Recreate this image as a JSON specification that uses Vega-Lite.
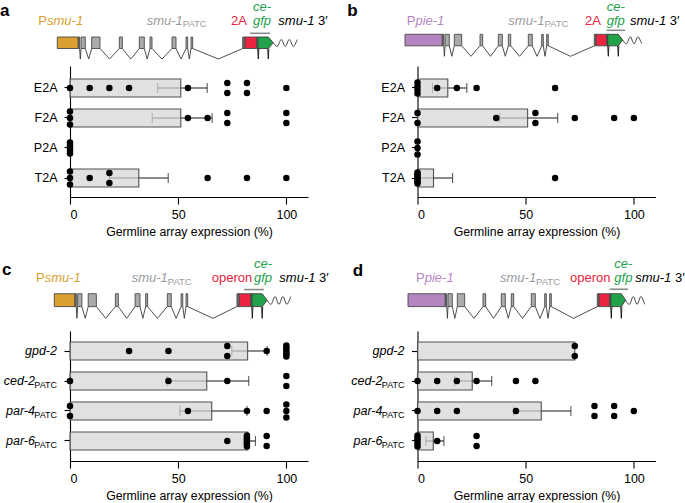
{
"$schema": "https://vega.github.io/schema/vega-lite/v6.json",
"padding": 0,
"background": "white",
"bounds": "flush",
"columns": 2,
"spacing": {"row": 5, "column": 109.5},
"config": {
 "font": "Liberation Sans",
 "view": {"stroke": null},
 "axis": {"domainColor": "#000", "domainWidth": 1.1, "tickColor": "#000", "tickWidth": 1.1, "labelColor": "#000", "labelFontSize": 12.5, "titleColor": "#000", "titleFontSize": 12.3, "titleFontWeight": "normal", "grid": false, "labelFont": "Liberation Sans", "titleFont": "Liberation Sans"},
 "axisX": {"tickSize": 7, "labelPadding": 4, "titlePadding": 5},
 "axisY": {"tickSize": 6, "labelPadding": 7}
},
"datasets": {
 "pts": [
  {"p":"a","cat":"E2A","v":0},{"p":"a","cat":"E2A","v":9.1},{"p":"a","cat":"E2A","v":18.2},{"p":"a","cat":"E2A","v":27.3},{"p":"a","cat":"E2A","v":54.5},{"p":"a","cat":"E2A","v":72.7},{"p":"a","cat":"E2A","v":72.7},{"p":"a","cat":"E2A","v":81.8},{"p":"a","cat":"E2A","v":81.8},{"p":"a","cat":"E2A","v":100},
  {"p":"a","cat":"F2A","v":0},{"p":"a","cat":"F2A","v":0},{"p":"a","cat":"F2A","v":0},{"p":"a","cat":"F2A","v":54.5},{"p":"a","cat":"F2A","v":63.6},{"p":"a","cat":"F2A","v":72.7},{"p":"a","cat":"F2A","v":72.7},{"p":"a","cat":"F2A","v":100},{"p":"a","cat":"F2A","v":100},
  {"p":"a","cat":"P2A","v":0},{"p":"a","cat":"P2A","v":0},{"p":"a","cat":"P2A","v":0},{"p":"a","cat":"P2A","v":0},{"p":"a","cat":"P2A","v":0},
  {"p":"a","cat":"T2A","v":0},{"p":"a","cat":"T2A","v":0},{"p":"a","cat":"T2A","v":0},{"p":"a","cat":"T2A","v":9.1},{"p":"a","cat":"T2A","v":18.2},{"p":"a","cat":"T2A","v":18.2},{"p":"a","cat":"T2A","v":63.6},{"p":"a","cat":"T2A","v":81.8},{"p":"a","cat":"T2A","v":100},
  {"p":"b","cat":"E2A","v":0},{"p":"b","cat":"E2A","v":0},{"p":"b","cat":"E2A","v":0},{"p":"b","cat":"E2A","v":0},{"p":"b","cat":"E2A","v":9.1},{"p":"b","cat":"E2A","v":18.2},{"p":"b","cat":"E2A","v":27.3},{"p":"b","cat":"E2A","v":63.6},
  {"p":"b","cat":"F2A","v":0},{"p":"b","cat":"F2A","v":0},{"p":"b","cat":"F2A","v":36.4},{"p":"b","cat":"F2A","v":54.5},{"p":"b","cat":"F2A","v":54.5},{"p":"b","cat":"F2A","v":72.7},{"p":"b","cat":"F2A","v":90.9},{"p":"b","cat":"F2A","v":100},
  {"p":"b","cat":"P2A","v":0},{"p":"b","cat":"P2A","v":0},{"p":"b","cat":"P2A","v":0},
  {"p":"b","cat":"T2A","v":0},{"p":"b","cat":"T2A","v":0},{"p":"b","cat":"T2A","v":0},{"p":"b","cat":"T2A","v":0},{"p":"b","cat":"T2A","v":0},{"p":"b","cat":"T2A","v":0},{"p":"b","cat":"T2A","v":0},{"p":"b","cat":"T2A","v":63.6},
  {"p":"c","cat":"gpd-2","v":27.3},{"p":"c","cat":"gpd-2","v":45.5},{"p":"c","cat":"gpd-2","v":72.7},{"p":"c","cat":"gpd-2","v":72.7},{"p":"c","cat":"gpd-2","v":90.9},{"p":"c","cat":"gpd-2","v":100},{"p":"c","cat":"gpd-2","v":100},{"p":"c","cat":"gpd-2","v":100},{"p":"c","cat":"gpd-2","v":100},{"p":"c","cat":"gpd-2","v":100},{"p":"c","cat":"gpd-2","v":100},
  {"p":"c","cat":"ced-2","v":0},{"p":"c","cat":"ced-2","v":45.5},{"p":"c","cat":"ced-2","v":72.7},{"p":"c","cat":"ced-2","v":100},{"p":"c","cat":"ced-2","v":100},
  {"p":"c","cat":"par-4","v":0},{"p":"c","cat":"par-4","v":0},{"p":"c","cat":"par-4","v":54.5},{"p":"c","cat":"par-4","v":81.8},{"p":"c","cat":"par-4","v":90.9},{"p":"c","cat":"par-4","v":100},{"p":"c","cat":"par-4","v":100},{"p":"c","cat":"par-4","v":100},
  {"p":"c","cat":"par-6","v":72.7},{"p":"c","cat":"par-6","v":81.8},{"p":"c","cat":"par-6","v":81.8},{"p":"c","cat":"par-6","v":81.8},{"p":"c","cat":"par-6","v":81.8},{"p":"c","cat":"par-6","v":81.8},{"p":"c","cat":"par-6","v":90.9},{"p":"c","cat":"par-6","v":90.9},
  {"p":"d","cat":"gpd-2","v":72.7},{"p":"d","cat":"gpd-2","v":72.7},
  {"p":"d","cat":"ced-2","v":0},{"p":"d","cat":"ced-2","v":9.1},{"p":"d","cat":"ced-2","v":18.2},{"p":"d","cat":"ced-2","v":27.3},{"p":"d","cat":"ced-2","v":45.5},{"p":"d","cat":"ced-2","v":54.5},
  {"p":"d","cat":"par-4","v":0},{"p":"d","cat":"par-4","v":9.1},{"p":"d","cat":"par-4","v":18.2},{"p":"d","cat":"par-4","v":45.5},{"p":"d","cat":"par-4","v":81.8},{"p":"d","cat":"par-4","v":81.8},{"p":"d","cat":"par-4","v":90.9},{"p":"d","cat":"par-4","v":90.9},{"p":"d","cat":"par-4","v":100},
  {"p":"d","cat":"par-6","v":0},{"p":"d","cat":"par-6","v":0},{"p":"d","cat":"par-6","v":0},{"p":"d","cat":"par-6","v":0},{"p":"d","cat":"par-6","v":0},{"p":"d","cat":"par-6","v":9.1},{"p":"d","cat":"par-6","v":27.3},{"p":"d","cat":"par-6","v":27.3}
 ],
 "bars": [
  {"p":"a","cat":"E2A","m":51.2,"lo":40.5,"hi":63.4},
  {"p":"a","cat":"F2A","m":51.2,"lo":38,"hi":65.7},
  {"p":"a","cat":"P2A","m":0},
  {"p":"a","cat":"T2A","m":31.8,"lo":18.2,"hi":45.4},
  {"p":"b","cat":"E2A","m":14.0,"lo":6.9,"hi":22.8},
  {"p":"b","cat":"F2A","m":50.9,"lo":38,"hi":64.8},
  {"p":"b","cat":"P2A","m":0},
  {"p":"b","cat":"T2A","m":7.4,"lo":0,"hi":16.2},
  {"p":"c","cat":"gpd-2","m":82.1,"lo":74.8,"hi":91.1},
  {"p":"c","cat":"ced-2","m":63.2,"lo":44.9,"hi":82.6,"sub":"PATC"},
  {"p":"c","cat":"par-4","m":65.5,"lo":50.8,"hi":81.8,"sub":"PATC"},
  {"p":"c","cat":"par-6","m":82.2,"lo":80.2,"hi":85.7,"sub":"PATC"},
  {"p":"d","cat":"gpd-2","m":72.7},
  {"p":"d","cat":"ced-2","m":25.3,"lo":17.3,"hi":34.3,"sub":"PATC"},
  {"p":"d","cat":"par-4","m":57.2,"lo":44.4,"hi":70.9,"sub":"PATC"},
  {"p":"d","cat":"par-6","m":7.3,"lo":3.9,"hi":12.2,"sub":"PATC"}
 ],
 "boxes": [
  {"t":"smu","k":"prom-smu","x":-12.7,"x2":8.3},
  {"t":"smu","k":"exon-dark","x":8.3,"x2":9.6},
  {"t":"smu","k":"exon","x":11,"x2":15.3},
  {"t":"smu","k":"exon","x":21.7,"x2":30},
  {"t":"smu","k":"exon","x":49.3,"x2":52.3},
  {"t":"smu","k":"exon","x":69.3,"x2":74.3},
  {"t":"smu","k":"exon","x":80,"x2":82},
  {"t":"smu","k":"exon","x":102,"x2":106},
  {"t":"smu","k":"exon","x":116,"x2":117.7},
  {"t":"smu","k":"exon","x":121,"x2":122.7},
  {"t":"smu","k":"exon-dark","x":172.7,"x2":175},
  {"t":"smu","k":"linker","x":175,"x2":186.7},
  {"t":"smu","k":"exon-dark","x":186.7,"x2":188},
  {"t":"pie","k":"prom-pie","x":-12.5,"x2":24.8},
  {"t":"pie","k":"exon-dark","x":24.8,"x2":26.3},
  {"t":"pie","k":"exon","x":27.5,"x2":31.8},
  {"t":"pie","k":"exon","x":36.8,"x2":44.2},
  {"t":"pie","k":"exon","x":62.5,"x2":65.2},
  {"t":"pie","k":"exon","x":80.8,"x2":84.8},
  {"t":"pie","k":"exon","x":90.8,"x2":93.2},
  {"t":"pie","k":"exon","x":110.8,"x2":114.8},
  {"t":"pie","k":"exon","x":124.2,"x2":125.8},
  {"t":"pie","k":"exon","x":129.2,"x2":130.8},
  {"t":"pie","k":"exon-dark","x":176.8,"x2":178.5},
  {"t":"pie","k":"linker","x":178.5,"x2":189.2},
  {"t":"pie","k":"exon-dark","x":189.2,"x2":190.2}
 ],
 "introns": [
  {"t":"smu","k":"intron","x":9.6,"xm":10.3,"x2":11},
  {"t":"smu","k":"intron","x":15.3,"xm":18.7,"x2":21.7},
  {"t":"smu","k":"intron","x":30,"xm":39.6,"x2":49.3},
  {"t":"smu","k":"intron","x":52.3,"xm":60.8,"x2":69.3},
  {"t":"smu","k":"intron","x":74.3,"xm":77.2,"x2":80},
  {"t":"smu","k":"intron","x":82,"xm":92,"x2":102},
  {"t":"smu","k":"intron","x":106,"xm":111,"x2":116},
  {"t":"smu","k":"intron","x":117.7,"xm":119.3,"x2":121},
  {"t":"smu","k":"intron","x":122.7,"xm":148.3,"x2":172.7},
  {"t":"smu","k":"gfpi","x":187.7,"xm":188.3,"x2":188.9},
  {"t":"smu","k":"gfpi","x":197.7,"xm":198.3,"x2":198.9},
  {"t":"pie","k":"intron","x":26.3,"xm":26.9,"x2":27.5},
  {"t":"pie","k":"intron","x":31.8,"xm":34.3,"x2":36.8},
  {"t":"pie","k":"intron","x":44.2,"xm":53.5,"x2":62.5},
  {"t":"pie","k":"intron","x":65.2,"xm":73,"x2":80.8},
  {"t":"pie","k":"intron","x":84.8,"xm":87.8,"x2":90.8},
  {"t":"pie","k":"intron","x":93.2,"xm":102,"x2":110.8},
  {"t":"pie","k":"intron","x":114.8,"xm":119.5,"x2":124.2},
  {"t":"pie","k":"intron","x":125.8,"xm":127.5,"x2":129.2},
  {"t":"pie","k":"intron","x":130.8,"xm":153,"x2":176.8},
  {"t":"pie","k":"gfpi","x":190.2,"xm":190.8,"x2":191.4},
  {"t":"pie","k":"gfpi","x":200.2,"xm":200.8,"x2":201.4}
 ],
 "gfpshape": [
  {"t":"smu","x":188,"y":0,"y2":11.5},{"t":"smu","x":198.3,"y":0,"y2":11.5},{"t":"smu","x":203.3,"y":5.75,"y2":5.75},
  {"t":"pie","x":190.2,"y":0,"y2":11.5},{"t":"pie","x":200.8,"y":0,"y2":11.5},{"t":"pie","x":205.2,"y":5.75,"y2":5.75}
 ],
 "wave": [
  {"t":"smu","x":203.3,"y":5.75},{"t":"smu","x":207.3,"y":9.5},{"t":"smu","x":211.3,"y":2.5},{"t":"smu","x":215.3,"y":9.5},{"t":"smu","x":219.3,"y":2.5},{"t":"smu","x":223.3,"y":9.5},{"t":"smu","x":227.3,"y":2.5},
  {"t":"pie","x":205.2,"y":5.75},{"t":"pie","x":209,"y":9.5},{"t":"pie","x":212.8,"y":2.5},{"t":"pie","x":216.6,"y":9.5},{"t":"pie","x":220.4,"y":2.5},{"t":"pie","x":224.2,"y":9.5}
 ],
 "gbar": [
  {"t":"smu","x":180,"x2":200,"y":-3.7},
  {"t":"pie","x":189.2,"x2":207.5,"y":-4}
 ],
 "labels": [
  {"p":"a","txt":"a","x":-70,"y":-21,"k":"letter","st":"bold"},
  {"p":"a","txt":"P","x":-31.7,"y":-12.5,"k":"prom-smu","st":"up"},
  {"p":"a","txt":"smu-1","x":-23,"y":-12.5,"k":"prom-smu","st":"it"},
  {"p":"a","txt":"smu-1","x":76.7,"y":-12.5,"k":"gene","st":"it"},
  {"p":"a","txt":"PATC","x":112.8,"y":-10,"k":"gene","st":"sub"},
  {"p":"a","txt":"2A","x":161,"y":-12.5,"k":"linker","st":"up"},
  {"p":"a","txt":"ce-","x":183,"y":-26.5,"k":"gfp","st":"it"},
  {"p":"a","txt":"gfp","x":183,"y":-12,"k":"gfp","st":"it"},
  {"p":"a","txt":"smu-1","x":208.3,"y":-12.5,"k":"utr","st":"it"},
  {"p":"a","txt":"3′","x":248,"y":-12.5,"k":"utr","st":"up"},
  {"p":"b","txt":"b","x":-70.2,"y":-18.3,"k":"letter","st":"bold"},
  {"p":"b","txt":"P","x":-10.8,"y":-9.8,"k":"prom-pie","st":"up"},
  {"p":"b","txt":"pie-1","x":-2.1,"y":-9.8,"k":"prom-pie","st":"it"},
  {"p":"b","txt":"smu-1","x":90.8,"y":-9.8,"k":"gene","st":"it"},
  {"p":"b","txt":"PATC","x":126.9,"y":-7.3,"k":"gene","st":"sub"},
  {"p":"b","txt":"2A","x":167.5,"y":-9.8,"k":"linker","st":"up"},
  {"p":"b","txt":"ce-","x":189.2,"y":-23.8,"k":"gfp","st":"it"},
  {"p":"b","txt":"gfp","x":189.2,"y":-9.3,"k":"gfp","st":"it"},
  {"p":"b","txt":"smu-1","x":212.5,"y":-9.8,"k":"utr","st":"it"},
  {"p":"b","txt":"3′","x":252.2,"y":-9.8,"k":"utr","st":"up"},
  {"p":"c","txt":"c","x":-65.8,"y":-16.7,"k":"letter","st":"bold"},
  {"p":"c","txt":"P","x":-31.3,"y":-10.4,"k":"prom-smu","st":"up"},
  {"p":"c","txt":"smu-1","x":-22.5,"y":-10.4,"k":"prom-smu","st":"it"},
  {"p":"c","txt":"smu-1","x":65.9,"y":-10.4,"k":"gene","st":"it"},
  {"p":"c","txt":"PATC","x":102.5,"y":-7.8,"k":"gene","st":"sub"},
  {"p":"c","txt":"operon","x":147.1,"y":-10.4,"k":"linker","st":"up"},
  {"p":"c","txt":"ce-","x":190,"y":-22.9,"k":"gfp","st":"it"},
  {"p":"c","txt":"gfp","x":190,"y":-10.4,"k":"gfp","st":"it"},
  {"p":"c","txt":"smu-1","x":215.7,"y":-10.4,"k":"utr","st":"it"},
  {"p":"c","txt":"3′","x":256,"y":-10.4,"k":"utr","st":"up"},
  {"p":"d","txt":"d","x":-67.8,"y":-15.8,"k":"letter","st":"bold"},
  {"p":"d","txt":"P","x":-4.5,"y":-10.4,"k":"prom-pie","st":"up"},
  {"p":"d","txt":"pie-1","x":4.2,"y":-10.4,"k":"prom-pie","st":"it"},
  {"p":"d","txt":"smu-1","x":79.5,"y":-10.4,"k":"gene","st":"it"},
  {"p":"d","txt":"PATC","x":115.6,"y":-7.8,"k":"gene","st":"sub"},
  {"p":"d","txt":"operon","x":149.5,"y":-10.4,"k":"linker","st":"up"},
  {"p":"d","txt":"ce-","x":193.8,"y":-22.9,"k":"gfp","st":"it"},
  {"p":"d","txt":"gfp","x":193.8,"y":-10.4,"k":"gfp","st":"it"},
  {"p":"d","txt":"smu-1","x":214.7,"y":-10.4,"k":"utr","st":"it"},
  {"p":"d","txt":"3′","x":254.4,"y":-10.4,"k":"utr","st":"up"}
 ]
},
"concat": [
 {"width": 238, "height": 60, "layer": [
  {"data":{"name":"introns"},"transform":[{"filter":"datum.t=='smu'"}],"mark":{"type":"rule","strokeWidth":0.9},"encoding":{"x":{"field":"x","type":"quantitative","scale":{"domain":[0,238]},"axis":null},"x2":{"field":"xm"},"y":{"datum":11.5,"type":"quantitative","scale":{"domain":[-36,24],"reverse":true},"axis":null},"y2":{"datum":22},"color":{"field":"k","type":"nominal","scale":{"domain":["letter","prom-smu","prom-pie","gene","linker","gfp","utr","exon","exon-dark","intron","gfpi"],"range":["#000000","#D99F30","#B585C2","#9B9B9B","#EA2340","#22A24A","#000000","#ABABAB","#727272","#3A3A3A","#111111"]},"legend":null}}},
  {"data":{"name":"introns"},"transform":[{"filter":"datum.t=='smu'"}],"mark":{"type":"rule","strokeWidth":0.9},"encoding":{"x":{"field":"xm","type":"quantitative","scale":{"domain":[0,238]},"axis":null},"x2":{"field":"x2"},"y":{"datum":22,"type":"quantitative","scale":{"domain":[-36,24],"reverse":true},"axis":null},"y2":{"datum":11.5},"color":{"field":"k","type":"nominal","legend":null}}},
  {"data":{"name":"boxes"},"transform":[{"filter":"datum.t=='smu'"}],"mark":{"type":"rect","stroke":"#4a4a4a","strokeWidth":0.9},"encoding":{"x":{"field":"x","type":"quantitative","scale":{"domain":[0,238]},"axis":null},"x2":{"field":"x2"},"y":{"datum":0,"type":"quantitative","scale":{"domain":[-36,24],"reverse":true},"axis":null},"y2":{"datum":11.5},"color":{"field":"k","type":"nominal","legend":null}}},
  {"data":{"name":"gfpshape"},"transform":[{"filter":"datum.t=='smu'"}],"mark":{"type":"area","orient":"vertical","fill":"#22A24A","stroke":"#3a3a3a","strokeWidth":0.9},"encoding":{"x":{"field":"x","type":"quantitative","scale":{"domain":[0,238]},"axis":null},"y":{"field":"y","type":"quantitative","scale":{"domain":[-36,24],"reverse":true},"axis":null},"y2":{"field":"y2"}}},
  {"data":{"name":"wave"},"transform":[{"filter":"datum.t=='smu'"}],"mark":{"type":"line","interpolate":"cardinal","color":"#333333","strokeWidth":0.9},"encoding":{"x":{"field":"x","type":"quantitative","scale":{"domain":[0,238]},"axis":null},"y":{"field":"y","type":"quantitative","scale":{"domain":[-36,24],"reverse":true},"axis":null}}},
  {"data":{"name":"gbar"},"transform":[{"filter":"datum.t=='smu'"}],"mark":{"type":"rule","color":"#8a8a8a","strokeWidth":1.6},"encoding":{"x":{"field":"x","type":"quantitative","scale":{"domain":[0,238]},"axis":null},"x2":{"field":"x2"},"y":{"field":"y","type":"quantitative","scale":{"domain":[-36,24],"reverse":true},"axis":null}}},
  {"data":{"name":"labels"},"transform":[{"filter":"datum.p=='a' && datum.st=='it'"}],"mark":{"type":"text","align":"left","baseline":"alphabetic","fontSize":13,"fontStyle":"italic"},"encoding":{"x":{"field":"x","type":"quantitative","scale":{"domain":[0,238]},"axis":null},"y":{"field":"y","type":"quantitative","scale":{"domain":[-36,24],"reverse":true},"axis":null},"text":{"field":"txt"},"color":{"field":"k","type":"nominal","legend":null}}},
  {"data":{"name":"labels"},"transform":[{"filter":"datum.p=='a' && datum.st=='up'"}],"mark":{"type":"text","align":"left","baseline":"alphabetic","fontSize":13},"encoding":{"x":{"field":"x","type":"quantitative","scale":{"domain":[0,238]},"axis":null},"y":{"field":"y","type":"quantitative","scale":{"domain":[-36,24],"reverse":true},"axis":null},"text":{"field":"txt"},"color":{"field":"k","type":"nominal","legend":null}}},
  {"data":{"name":"labels"},"transform":[{"filter":"datum.p=='a' && datum.st=='bold'"}],"mark":{"type":"text","align":"left","baseline":"alphabetic","fontSize":17,"fontWeight":"bold"},"encoding":{"x":{"field":"x","type":"quantitative","scale":{"domain":[0,238]},"axis":null},"y":{"field":"y","type":"quantitative","scale":{"domain":[-36,24],"reverse":true},"axis":null},"text":{"field":"txt"},"color":{"field":"k","type":"nominal","legend":null}}},
  {"data":{"name":"labels"},"transform":[{"filter":"datum.p=='a' && datum.st=='sub'"}],"mark":{"type":"text","align":"left","baseline":"alphabetic","fontSize":9.5},"encoding":{"x":{"field":"x","type":"quantitative","scale":{"domain":[0,238]},"axis":null},"y":{"field":"y","type":"quantitative","scale":{"domain":[-36,24],"reverse":true},"axis":null},"text":{"field":"txt"},"color":{"field":"k","type":"nominal","legend":null}}}
 ]},
 {"width": 238, "height": 60, "layer": [
  {"data":{"name":"introns"},"transform":[{"filter":"datum.t=='pie'"}],"mark":{"type":"rule","strokeWidth":0.9},"encoding":{"x":{"field":"x","type":"quantitative","scale":{"domain":[0,238]},"axis":null},"x2":{"field":"xm"},"y":{"datum":11.5,"type":"quantitative","scale":{"domain":[-33.3,26.7],"reverse":true},"axis":null},"y2":{"datum":22},"color":{"field":"k","type":"nominal","scale":{"domain":["letter","prom-smu","prom-pie","gene","linker","gfp","utr","exon","exon-dark","intron","gfpi"],"range":["#000000","#D99F30","#B585C2","#9B9B9B","#EA2340","#22A24A","#000000","#ABABAB","#727272","#3A3A3A","#111111"]},"legend":null}}},
  {"data":{"name":"introns"},"transform":[{"filter":"datum.t=='pie'"}],"mark":{"type":"rule","strokeWidth":0.9},"encoding":{"x":{"field":"xm","type":"quantitative","scale":{"domain":[0,238]},"axis":null},"x2":{"field":"x2"},"y":{"datum":22,"type":"quantitative","scale":{"domain":[-33.3,26.7],"reverse":true},"axis":null},"y2":{"datum":11.5},"color":{"field":"k","type":"nominal","legend":null}}},
  {"data":{"name":"boxes"},"transform":[{"filter":"datum.t=='pie'"}],"mark":{"type":"rect","stroke":"#4a4a4a","strokeWidth":0.9},"encoding":{"x":{"field":"x","type":"quantitative","scale":{"domain":[0,238]},"axis":null},"x2":{"field":"x2"},"y":{"datum":0,"type":"quantitative","scale":{"domain":[-33.3,26.7],"reverse":true},"axis":null},"y2":{"datum":11.5},"color":{"field":"k","type":"nominal","legend":null}}},
  {"data":{"name":"gfpshape"},"transform":[{"filter":"datum.t=='pie'"}],"mark":{"type":"area","orient":"vertical","fill":"#22A24A","stroke":"#3a3a3a","strokeWidth":0.9},"encoding":{"x":{"field":"x","type":"quantitative","scale":{"domain":[0,238]},"axis":null},"y":{"field":"y","type":"quantitative","scale":{"domain":[-33.3,26.7],"reverse":true},"axis":null},"y2":{"field":"y2"}}},
  {"data":{"name":"wave"},"transform":[{"filter":"datum.t=='pie'"}],"mark":{"type":"line","interpolate":"cardinal","color":"#333333","strokeWidth":0.9},"encoding":{"x":{"field":"x","type":"quantitative","scale":{"domain":[0,238]},"axis":null},"y":{"field":"y","type":"quantitative","scale":{"domain":[-33.3,26.7],"reverse":true},"axis":null}}},
  {"data":{"name":"gbar"},"transform":[{"filter":"datum.t=='pie'"}],"mark":{"type":"rule","color":"#8a8a8a","strokeWidth":1.6},"encoding":{"x":{"field":"x","type":"quantitative","scale":{"domain":[0,238]},"axis":null},"x2":{"field":"x2"},"y":{"field":"y","type":"quantitative","scale":{"domain":[-33.3,26.7],"reverse":true},"axis":null}}},
  {"data":{"name":"labels"},"transform":[{"filter":"datum.p=='b' && datum.st=='it'"}],"mark":{"type":"text","align":"left","baseline":"alphabetic","fontSize":13,"fontStyle":"italic"},"encoding":{"x":{"field":"x","type":"quantitative","scale":{"domain":[0,238]},"axis":null},"y":{"field":"y","type":"quantitative","scale":{"domain":[-33.3,26.7],"reverse":true},"axis":null},"text":{"field":"txt"},"color":{"field":"k","type":"nominal","legend":null}}},
  {"data":{"name":"labels"},"transform":[{"filter":"datum.p=='b' && datum.st=='up'"}],"mark":{"type":"text","align":"left","baseline":"alphabetic","fontSize":13},"encoding":{"x":{"field":"x","type":"quantitative","scale":{"domain":[0,238]},"axis":null},"y":{"field":"y","type":"quantitative","scale":{"domain":[-33.3,26.7],"reverse":true},"axis":null},"text":{"field":"txt"},"color":{"field":"k","type":"nominal","legend":null}}},
  {"data":{"name":"labels"},"transform":[{"filter":"datum.p=='b' && datum.st=='bold'"}],"mark":{"type":"text","align":"left","baseline":"alphabetic","fontSize":17,"fontWeight":"bold"},"encoding":{"x":{"field":"x","type":"quantitative","scale":{"domain":[0,238]},"axis":null},"y":{"field":"y","type":"quantitative","scale":{"domain":[-33.3,26.7],"reverse":true},"axis":null},"text":{"field":"txt"},"color":{"field":"k","type":"nominal","legend":null}}},
  {"data":{"name":"labels"},"transform":[{"filter":"datum.p=='b' && datum.st=='sub'"}],"mark":{"type":"text","align":"left","baseline":"alphabetic","fontSize":9.5},"encoding":{"x":{"field":"x","type":"quantitative","scale":{"domain":[0,238]},"axis":null},"y":{"field":"y","type":"quantitative","scale":{"domain":[-33.3,26.7],"reverse":true},"axis":null},"text":{"field":"txt"},"color":{"field":"k","type":"nominal","legend":null}}}
 ]},
 {"width": 238, "height": 131,
  "encoding": {"y": {"field":"cat","type":"nominal","scale":{"domain":["E2A","F2A","P2A","T2A"],"paddingInner":0.4,"paddingOuter":0.383,"align":0.565},"axis":{"title":null}}},
  "layer": [
  {"data":{"name":"bars"},"transform":[{"filter":"datum.p=='a' && isValid(datum.lo)"}],"mark":{"type":"rule","color":"#1a1a1a","strokeWidth":1.1},"encoding":{"x":{"field":"lo","type":"quantitative","scale":{"domain":[0,110]},"axis":{"values":[0,50,100],"title":"Germline array expression (%)"}},"x2":{"field":"hi"}}},
  {"data":{"name":"bars"},"transform":[{"filter":"datum.p=='a' && isValid(datum.lo)"},{"fold":["lo","hi"],"as":["side","ev"]}],"mark":{"type":"tick","color":"#1a1a1a","thickness":1.1,"size":10},"encoding":{"x":{"field":"ev","type":"quantitative","scale":{"domain":[0,110]},"axis":{"values":[0,50,100],"title":"Germline array expression (%)"}}}},
  {"data":{"name":"bars"},"transform":[{"filter":"datum.p=='a'"}],"mark":{"type":"bar","fill":"#d4d4d4","fillOpacity":0.7,"stroke":"#505050","strokeWidth":1.1},"encoding":{"x":{"field":"m","type":"quantitative","scale":{"domain":[0,110]},"axis":{"values":[0,50,100],"title":"Germline array expression (%)"}}}},
  {"data":{"name":"pts"},"transform":[{"filter":"datum.p=='a'"},{"window":[{"op":"row_number","as":"rk"},{"op":"count","as":"n"}],"groupby":["cat","v"],"frame":[null,null]},{"calculate":"datum.n<2?0:(datum.rk-(datum.n+1)/2)*(datum.n==2?10:datum.n==3?6.6:11/(datum.n-1))","as":"off"}],"mark":{"type":"circle","size":42,"color":"#000","opacity":1,"yOffset":{"expr":"datum.off"}},"encoding":{"x":{"field":"v","type":"quantitative","scale":{"domain":[0,110]},"axis":{"values":[0,50,100],"title":"Germline array expression (%)"}}}}
 ]},
 {"width": 238, "height": 131,
  "encoding": {"y": {"field":"cat","type":"nominal","scale":{"domain":["E2A","F2A","P2A","T2A"],"paddingInner":0.4,"paddingOuter":0.383,"align":0.565},"axis":{"title":null}}},
  "layer": [
  {"data":{"name":"bars"},"transform":[{"filter":"datum.p=='b' && isValid(datum.lo)"}],"mark":{"type":"rule","color":"#1a1a1a","strokeWidth":1.1},"encoding":{"x":{"field":"lo","type":"quantitative","scale":{"domain":[0,110]},"axis":{"values":[0,50,100],"title":"Germline array expression (%)"}},"x2":{"field":"hi"}}},
  {"data":{"name":"bars"},"transform":[{"filter":"datum.p=='b' && isValid(datum.lo)"},{"fold":["lo","hi"],"as":["side","ev"]}],"mark":{"type":"tick","color":"#1a1a1a","thickness":1.1,"size":10},"encoding":{"x":{"field":"ev","type":"quantitative","scale":{"domain":[0,110]},"axis":{"values":[0,50,100],"title":"Germline array expression (%)"}}}},
  {"data":{"name":"bars"},"transform":[{"filter":"datum.p=='b'"}],"mark":{"type":"bar","fill":"#d4d4d4","fillOpacity":0.7,"stroke":"#505050","strokeWidth":1.1},"encoding":{"x":{"field":"m","type":"quantitative","scale":{"domain":[0,110]},"axis":{"values":[0,50,100],"title":"Germline array expression (%)"}}}},
  {"data":{"name":"pts"},"transform":[{"filter":"datum.p=='b'"},{"window":[{"op":"row_number","as":"rk"},{"op":"count","as":"n"}],"groupby":["cat","v"],"frame":[null,null]},{"calculate":"datum.n<2?0:(datum.rk-(datum.n+1)/2)*(datum.n==2?10:datum.n==3?6.6:11/(datum.n-1))","as":"off"}],"mark":{"type":"circle","size":42,"color":"#000","opacity":1,"yOffset":{"expr":"datum.off"}},"encoding":{"x":{"field":"v","type":"quantitative","scale":{"domain":[0,110]},"axis":{"values":[0,50,100],"title":"Germline array expression (%)"}}}}
 ]},
 {"width": 238, "height": 123.3, "layer": [
  {"data":{"name":"introns"},"transform":[{"filter":"datum.t=='smu'"}],"mark":{"type":"rule","strokeWidth":0.9},"encoding":{"x":{"field":"x","type":"quantitative","scale":{"domain":[3.24,244.8]},"axis":null},"x2":{"field":"xm"},"y":{"datum":11.5,"type":"quantitative","scale":{"domain":[-81.9,28.2],"reverse":true},"axis":null},"y2":{"datum":22},"color":{"field":"k","type":"nominal","scale":{"domain":["letter","prom-smu","prom-pie","gene","linker","gfp","utr","exon","exon-dark","intron","gfpi"],"range":["#000000","#D99F30","#B585C2","#9B9B9B","#EA2340","#22A24A","#000000","#ABABAB","#727272","#3A3A3A","#111111"]},"legend":null}}},
  {"data":{"name":"introns"},"transform":[{"filter":"datum.t=='smu'"}],"mark":{"type":"rule","strokeWidth":0.9},"encoding":{"x":{"field":"xm","type":"quantitative","scale":{"domain":[3.24,244.8]},"axis":null},"x2":{"field":"x2"},"y":{"datum":22,"type":"quantitative","scale":{"domain":[-81.9,28.2],"reverse":true},"axis":null},"y2":{"datum":11.5},"color":{"field":"k","type":"nominal","legend":null}}},
  {"data":{"name":"boxes"},"transform":[{"filter":"datum.t=='smu'"}],"mark":{"type":"rect","stroke":"#4a4a4a","strokeWidth":0.9},"encoding":{"x":{"field":"x","type":"quantitative","scale":{"domain":[3.24,244.8]},"axis":null},"x2":{"field":"x2"},"y":{"datum":0,"type":"quantitative","scale":{"domain":[-81.9,28.2],"reverse":true},"axis":null},"y2":{"datum":11.5},"color":{"field":"k","type":"nominal","legend":null}}},
  {"data":{"name":"gfpshape"},"transform":[{"filter":"datum.t=='smu'"}],"mark":{"type":"area","orient":"vertical","fill":"#22A24A","stroke":"#3a3a3a","strokeWidth":0.9},"encoding":{"x":{"field":"x","type":"quantitative","scale":{"domain":[3.24,244.8]},"axis":null},"y":{"field":"y","type":"quantitative","scale":{"domain":[-81.9,28.2],"reverse":true},"axis":null},"y2":{"field":"y2"}}},
  {"data":{"name":"wave"},"transform":[{"filter":"datum.t=='smu'"}],"mark":{"type":"line","interpolate":"cardinal","color":"#333333","strokeWidth":0.9},"encoding":{"x":{"field":"x","type":"quantitative","scale":{"domain":[3.24,244.8]},"axis":null},"y":{"field":"y","type":"quantitative","scale":{"domain":[-81.9,28.2],"reverse":true},"axis":null}}},
  {"data":{"name":"gbar"},"transform":[{"filter":"datum.t=='smu'"}],"mark":{"type":"rule","color":"#8a8a8a","strokeWidth":1.6},"encoding":{"x":{"field":"x","type":"quantitative","scale":{"domain":[3.24,244.8]},"axis":null},"x2":{"field":"x2"},"y":{"field":"y","type":"quantitative","scale":{"domain":[-81.9,28.2],"reverse":true},"axis":null}}},
  {"data":{"name":"labels"},"transform":[{"filter":"datum.p=='c' && datum.st=='it'"}],"mark":{"type":"text","align":"left","baseline":"alphabetic","fontSize":13,"fontStyle":"italic"},"encoding":{"x":{"field":"x","type":"quantitative","scale":{"domain":[3.24,244.8]},"axis":null},"y":{"field":"y","type":"quantitative","scale":{"domain":[-81.9,28.2],"reverse":true},"axis":null},"text":{"field":"txt"},"color":{"field":"k","type":"nominal","legend":null}}},
  {"data":{"name":"labels"},"transform":[{"filter":"datum.p=='c' && datum.st=='up'"}],"mark":{"type":"text","align":"left","baseline":"alphabetic","fontSize":13},"encoding":{"x":{"field":"x","type":"quantitative","scale":{"domain":[3.24,244.8]},"axis":null},"y":{"field":"y","type":"quantitative","scale":{"domain":[-81.9,28.2],"reverse":true},"axis":null},"text":{"field":"txt"},"color":{"field":"k","type":"nominal","legend":null}}},
  {"data":{"name":"labels"},"transform":[{"filter":"datum.p=='c' && datum.st=='bold'"}],"mark":{"type":"text","align":"left","baseline":"alphabetic","fontSize":17,"fontWeight":"bold"},"encoding":{"x":{"field":"x","type":"quantitative","scale":{"domain":[3.24,244.8]},"axis":null},"y":{"field":"y","type":"quantitative","scale":{"domain":[-81.9,28.2],"reverse":true},"axis":null},"text":{"field":"txt"},"color":{"field":"k","type":"nominal","legend":null}}},
  {"data":{"name":"labels"},"transform":[{"filter":"datum.p=='c' && datum.st=='sub'"}],"mark":{"type":"text","align":"left","baseline":"alphabetic","fontSize":9.5},"encoding":{"x":{"field":"x","type":"quantitative","scale":{"domain":[3.24,244.8]},"axis":null},"y":{"field":"y","type":"quantitative","scale":{"domain":[-81.9,28.2],"reverse":true},"axis":null},"text":{"field":"txt"},"color":{"field":"k","type":"nominal","legend":null}}}
 ]},
 {"width": 238, "height": 123.3, "layer": [
  {"data":{"name":"introns"},"transform":[{"filter":"datum.t=='pie'"}],"mark":{"type":"rule","strokeWidth":0.9},"encoding":{"x":{"field":"x","type":"quantitative","scale":{"domain":[-3,235]},"axis":null},"x2":{"field":"xm"},"y":{"datum":11.5,"type":"quantitative","scale":{"domain":[-81.9,28.2],"reverse":true},"axis":null},"y2":{"datum":22},"color":{"field":"k","type":"nominal","scale":{"domain":["letter","prom-smu","prom-pie","gene","linker","gfp","utr","exon","exon-dark","intron","gfpi"],"range":["#000000","#D99F30","#B585C2","#9B9B9B","#EA2340","#22A24A","#000000","#ABABAB","#727272","#3A3A3A","#111111"]},"legend":null}}},
  {"data":{"name":"introns"},"transform":[{"filter":"datum.t=='pie'"}],"mark":{"type":"rule","strokeWidth":0.9},"encoding":{"x":{"field":"xm","type":"quantitative","scale":{"domain":[-3,235]},"axis":null},"x2":{"field":"x2"},"y":{"datum":22,"type":"quantitative","scale":{"domain":[-81.9,28.2],"reverse":true},"axis":null},"y2":{"datum":11.5},"color":{"field":"k","type":"nominal","legend":null}}},
  {"data":{"name":"boxes"},"transform":[{"filter":"datum.t=='pie'"}],"mark":{"type":"rect","stroke":"#4a4a4a","strokeWidth":0.9},"encoding":{"x":{"field":"x","type":"quantitative","scale":{"domain":[-3,235]},"axis":null},"x2":{"field":"x2"},"y":{"datum":0,"type":"quantitative","scale":{"domain":[-81.9,28.2],"reverse":true},"axis":null},"y2":{"datum":11.5},"color":{"field":"k","type":"nominal","legend":null}}},
  {"data":{"name":"gfpshape"},"transform":[{"filter":"datum.t=='pie'"}],"mark":{"type":"area","orient":"vertical","fill":"#22A24A","stroke":"#3a3a3a","strokeWidth":0.9},"encoding":{"x":{"field":"x","type":"quantitative","scale":{"domain":[-3,235]},"axis":null},"y":{"field":"y","type":"quantitative","scale":{"domain":[-81.9,28.2],"reverse":true},"axis":null},"y2":{"field":"y2"}}},
  {"data":{"name":"wave"},"transform":[{"filter":"datum.t=='pie'"}],"mark":{"type":"line","interpolate":"cardinal","color":"#333333","strokeWidth":0.9},"encoding":{"x":{"field":"x","type":"quantitative","scale":{"domain":[-3,235]},"axis":null},"y":{"field":"y","type":"quantitative","scale":{"domain":[-81.9,28.2],"reverse":true},"axis":null}}},
  {"data":{"name":"gbar"},"transform":[{"filter":"datum.t=='pie'"}],"mark":{"type":"rule","color":"#8a8a8a","strokeWidth":1.6},"encoding":{"x":{"field":"x","type":"quantitative","scale":{"domain":[-3,235]},"axis":null},"x2":{"field":"x2"},"y":{"field":"y","type":"quantitative","scale":{"domain":[-81.9,28.2],"reverse":true},"axis":null}}},
  {"data":{"name":"labels"},"transform":[{"filter":"datum.p=='d' && datum.st=='it'"}],"mark":{"type":"text","align":"left","baseline":"alphabetic","fontSize":13,"fontStyle":"italic"},"encoding":{"x":{"field":"x","type":"quantitative","scale":{"domain":[-3,235]},"axis":null},"y":{"field":"y","type":"quantitative","scale":{"domain":[-81.9,28.2],"reverse":true},"axis":null},"text":{"field":"txt"},"color":{"field":"k","type":"nominal","legend":null}}},
  {"data":{"name":"labels"},"transform":[{"filter":"datum.p=='d' && datum.st=='up'"}],"mark":{"type":"text","align":"left","baseline":"alphabetic","fontSize":13},"encoding":{"x":{"field":"x","type":"quantitative","scale":{"domain":[-3,235]},"axis":null},"y":{"field":"y","type":"quantitative","scale":{"domain":[-81.9,28.2],"reverse":true},"axis":null},"text":{"field":"txt"},"color":{"field":"k","type":"nominal","legend":null}}},
  {"data":{"name":"labels"},"transform":[{"filter":"datum.p=='d' && datum.st=='bold'"}],"mark":{"type":"text","align":"left","baseline":"alphabetic","fontSize":17,"fontWeight":"bold"},"encoding":{"x":{"field":"x","type":"quantitative","scale":{"domain":[-3,235]},"axis":null},"y":{"field":"y","type":"quantitative","scale":{"domain":[-81.9,28.2],"reverse":true},"axis":null},"text":{"field":"txt"},"color":{"field":"k","type":"nominal","legend":null}}},
  {"data":{"name":"labels"},"transform":[{"filter":"datum.p=='d' && datum.st=='sub'"}],"mark":{"type":"text","align":"left","baseline":"alphabetic","fontSize":9.5},"encoding":{"x":{"field":"x","type":"quantitative","scale":{"domain":[-3,235]},"axis":null},"y":{"field":"y","type":"quantitative","scale":{"domain":[-81.9,28.2],"reverse":true},"axis":null},"text":{"field":"txt"},"color":{"field":"k","type":"nominal","legend":null}}}
 ]},
 {"width": 238, "height": 130,
  "encoding": {"y": {"field":"cat","type":"nominal","scale":{"domain":["gpd-2","ced-2","par-4","par-6"],"paddingInner":0.4,"paddingOuter":0.367},"axis":{"title":null,"labels":false}}},
  "layer": [
  {"data":{"name":"bars"},"transform":[{"filter":"datum.p=='c' && isValid(datum.lo)"}],"mark":{"type":"rule","color":"#1a1a1a","strokeWidth":1.1},"encoding":{"x":{"field":"lo","type":"quantitative","scale":{"domain":[0,110]},"axis":{"values":[0,50,100],"title":"Germline array expression (%)"}},"x2":{"field":"hi"}}},
  {"data":{"name":"bars"},"transform":[{"filter":"datum.p=='c' && isValid(datum.lo)"},{"fold":["lo","hi"],"as":["side","ev"]}],"mark":{"type":"tick","color":"#1a1a1a","thickness":1.1,"size":10},"encoding":{"x":{"field":"ev","type":"quantitative","scale":{"domain":[0,110]},"axis":{"values":[0,50,100],"title":"Germline array expression (%)"}}}},
  {"data":{"name":"bars"},"transform":[{"filter":"datum.p=='c'"}],"mark":{"type":"bar","fill":"#d4d4d4","fillOpacity":0.7,"stroke":"#505050","strokeWidth":1.1},"encoding":{"x":{"field":"m","type":"quantitative","scale":{"domain":[0,110]},"axis":{"values":[0,50,100],"title":"Germline array expression (%)"}}}},
  {"data":{"name":"pts"},"transform":[{"filter":"datum.p=='c'"},{"window":[{"op":"row_number","as":"rk"},{"op":"count","as":"n"}],"groupby":["cat","v"],"frame":[null,null]},{"calculate":"datum.n<2?0:(datum.rk-(datum.n+1)/2)*(datum.n==2?10:datum.n==3?6.6:11/(datum.n-1))","as":"off"}],"mark":{"type":"circle","size":42,"color":"#000","opacity":1,"yOffset":{"expr":"datum.off"}},"encoding":{"x":{"field":"v","type":"quantitative","scale":{"domain":[0,110]},"axis":{"values":[0,50,100],"title":"Germline array expression (%)"}}}},
  {"data":{"name":"bars"},"transform":[{"filter":"datum.p=='c' && !isValid(datum.sub)"}],"mark":{"type":"text","align":"right","baseline":"middle","dx":-13,"fontSize":12.5,"fontStyle":"italic","fontWeight":"normal","color":"#000"},"encoding":{"x":{"datum":0,"type":"quantitative","scale":{"domain":[0,110]},"axis":{"values":[0,50,100],"title":"Germline array expression (%)"}},"text":{"field":"cat"}}},
  {"data":{"name":"bars"},"transform":[{"filter":"datum.p=='c' && isValid(datum.sub)"}],"mark":{"type":"text","align":"right","baseline":"middle","dx":-35,"fontSize":12.5,"fontStyle":"italic","fontWeight":"normal","color":"#000"},"encoding":{"x":{"datum":0,"type":"quantitative","scale":{"domain":[0,110]},"axis":{"values":[0,50,100],"title":"Germline array expression (%)"}},"text":{"field":"cat"}}},
  {"data":{"name":"bars"},"transform":[{"filter":"datum.p=='c' && isValid(datum.sub)"}],"mark":{"type":"text","align":"right","baseline":"alphabetic","dx":-13,"dy":7,"fontSize":9,"fontWeight":"normal","color":"#000"},"encoding":{"x":{"datum":0,"type":"quantitative","scale":{"domain":[0,110]},"axis":{"values":[0,50,100],"title":"Germline array expression (%)"}},"text":{"field":"sub"}}}
 ]},
 {"width": 238, "height": 130,
  "encoding": {"y": {"field":"cat","type":"nominal","scale":{"domain":["gpd-2","ced-2","par-4","par-6"],"paddingInner":0.4,"paddingOuter":0.367},"axis":{"title":null,"labels":false}}},
  "layer": [
  {"data":{"name":"bars"},"transform":[{"filter":"datum.p=='d' && isValid(datum.lo)"}],"mark":{"type":"rule","color":"#1a1a1a","strokeWidth":1.1},"encoding":{"x":{"field":"lo","type":"quantitative","scale":{"domain":[0,110]},"axis":{"values":[0,50,100],"title":"Germline array expression (%)"}},"x2":{"field":"hi"}}},
  {"data":{"name":"bars"},"transform":[{"filter":"datum.p=='d' && isValid(datum.lo)"},{"fold":["lo","hi"],"as":["side","ev"]}],"mark":{"type":"tick","color":"#1a1a1a","thickness":1.1,"size":10},"encoding":{"x":{"field":"ev","type":"quantitative","scale":{"domain":[0,110]},"axis":{"values":[0,50,100],"title":"Germline array expression (%)"}}}},
  {"data":{"name":"bars"},"transform":[{"filter":"datum.p=='d'"}],"mark":{"type":"bar","fill":"#d4d4d4","fillOpacity":0.7,"stroke":"#505050","strokeWidth":1.1},"encoding":{"x":{"field":"m","type":"quantitative","scale":{"domain":[0,110]},"axis":{"values":[0,50,100],"title":"Germline array expression (%)"}}}},
  {"data":{"name":"pts"},"transform":[{"filter":"datum.p=='d'"},{"window":[{"op":"row_number","as":"rk"},{"op":"count","as":"n"}],"groupby":["cat","v"],"frame":[null,null]},{"calculate":"datum.n<2?0:(datum.rk-(datum.n+1)/2)*(datum.n==2?10:datum.n==3?6.6:11/(datum.n-1))","as":"off"}],"mark":{"type":"circle","size":42,"color":"#000","opacity":1,"yOffset":{"expr":"datum.off"}},"encoding":{"x":{"field":"v","type":"quantitative","scale":{"domain":[0,110]},"axis":{"values":[0,50,100],"title":"Germline array expression (%)"}}}},
  {"data":{"name":"bars"},"transform":[{"filter":"datum.p=='d' && !isValid(datum.sub)"}],"mark":{"type":"text","align":"right","baseline":"middle","dx":-13,"fontSize":12.5,"fontStyle":"italic","fontWeight":"normal","color":"#000"},"encoding":{"x":{"datum":0,"type":"quantitative","scale":{"domain":[0,110]},"axis":{"values":[0,50,100],"title":"Germline array expression (%)"}},"text":{"field":"cat"}}},
  {"data":{"name":"bars"},"transform":[{"filter":"datum.p=='d' && isValid(datum.sub)"}],"mark":{"type":"text","align":"right","baseline":"middle","dx":-35,"fontSize":12.5,"fontStyle":"italic","fontWeight":"normal","color":"#000"},"encoding":{"x":{"datum":0,"type":"quantitative","scale":{"domain":[0,110]},"axis":{"values":[0,50,100],"title":"Germline array expression (%)"}},"text":{"field":"cat"}}},
  {"data":{"name":"bars"},"transform":[{"filter":"datum.p=='d' && isValid(datum.sub)"}],"mark":{"type":"text","align":"right","baseline":"alphabetic","dx":-13,"dy":7,"fontSize":9,"fontWeight":"normal","color":"#000"},"encoding":{"x":{"datum":0,"type":"quantitative","scale":{"domain":[0,110]},"axis":{"values":[0,50,100],"title":"Germline array expression (%)"}},"text":{"field":"sub"}}}
 ]}
]
}
